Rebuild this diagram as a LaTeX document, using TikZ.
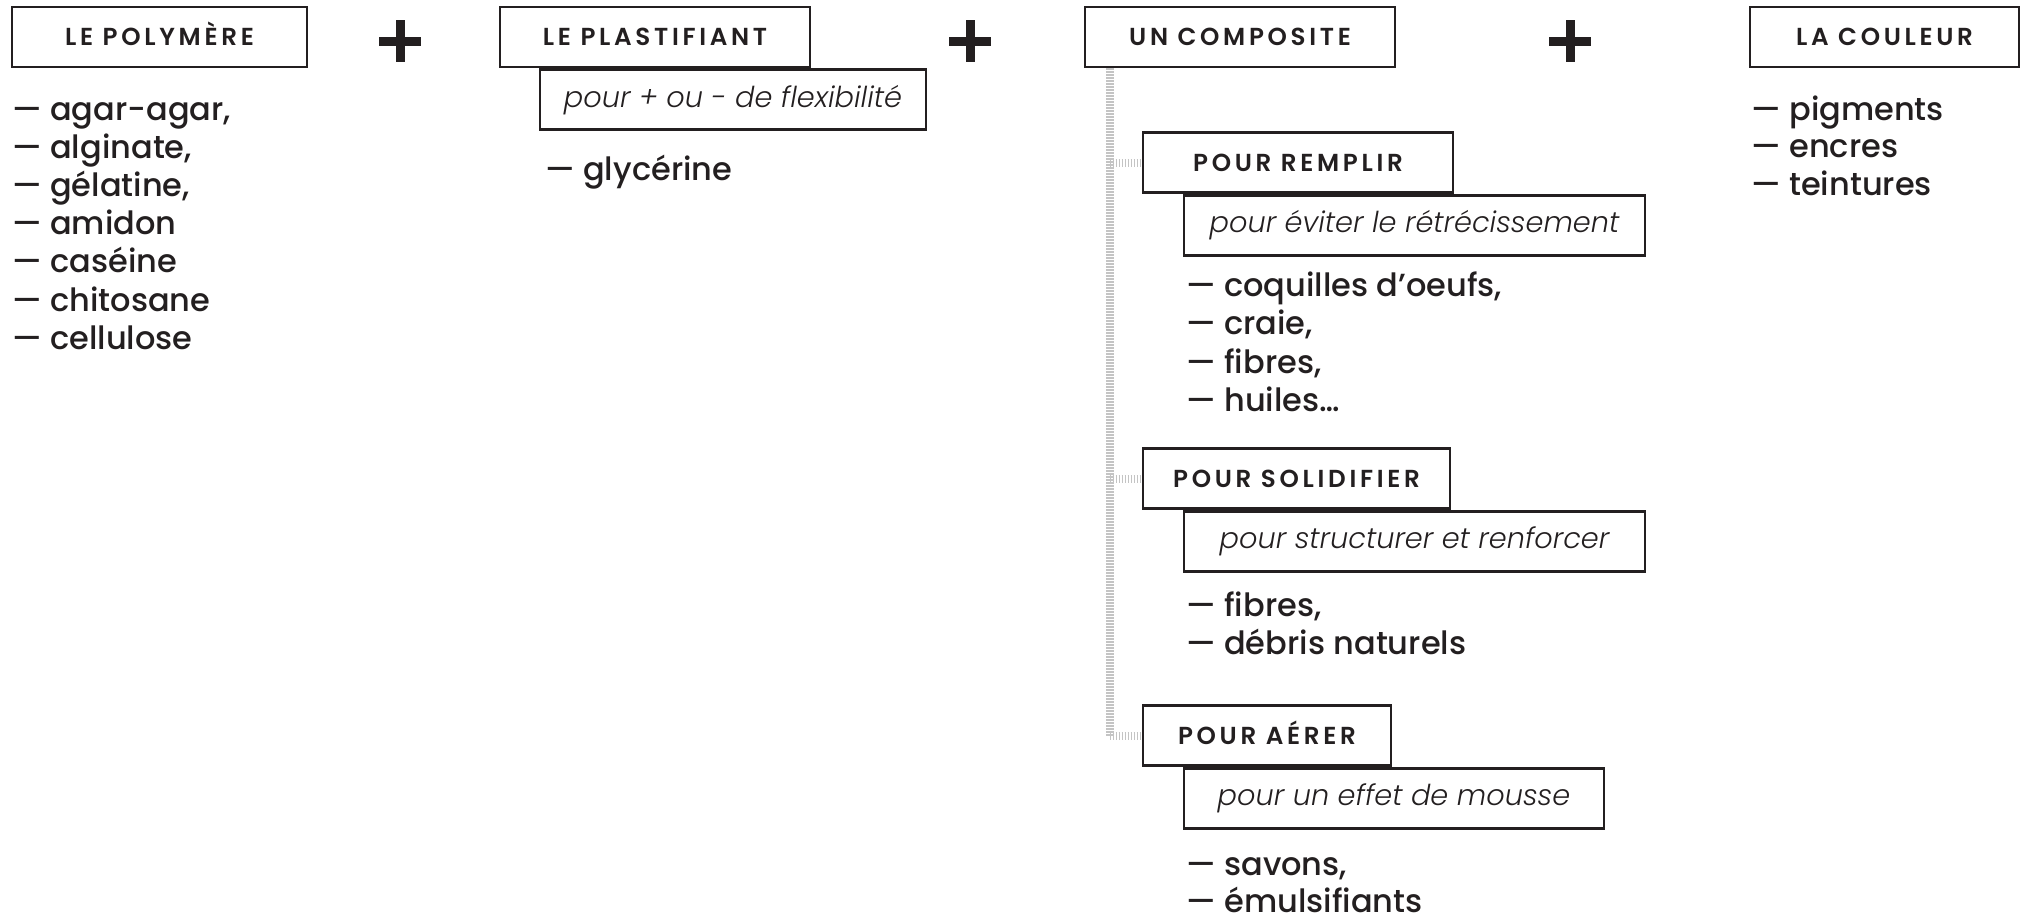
\documentclass[tikz,border=0pt]{standalone}
\usepackage{fontspec}
\setmainfont{Poppins}[UprightFont=* Medium, ItalicFont=* Light Italic, BoldFont=* SemiBold]
\newfontfamily\titlefont{Poppins SemiBold}[LetterSpace=15]
\usetikzlibrary{positioning}
\definecolor{ink}{HTML}{231F20}
\definecolor{hatchgray}{HTML}{C4C4C4}

\begin{document}
\begin{tikzpicture}[x=0.5pt, y=-0.5pt,
  every node/.style={text=ink},
  titre/.style={draw=ink, line width=1.4pt, minimum height=30pt, inner sep=0pt,
    text height=8.8pt, text depth=0pt, font=\titlefont\fontsize{12.3}{14}\selectfont},
  sous/.style={draw=ink, line width=1.4pt, minimum height=30pt, inner sep=0pt,
    text height=10.5pt, text depth=3pt, font=\itshape\fontsize{14.4}{16}\selectfont},
  item/.style={anchor=base west, inner sep=0pt, font=\fontsize{16}{19}\selectfont},
  plus/.style={minimum size=21pt, inner sep=0pt, path picture={
    \fill[ink] ([xshift=-2.25pt]path picture bounding box.north) rectangle ([xshift=2.25pt]path picture bounding box.south);
    \fill[ink] ([yshift=2.25pt]path picture bounding box.west) rectangle ([yshift=-2.25pt]path picture bounding box.east);}},
  hachure/.style={draw=hatchgray, line width=4pt, dash pattern=on 0.75pt off 0.75pt}]
  \useasboundingbox (0,0) rectangle (2025,921);

  \node[titre, minimum width=147.5pt] (poly)  at (159.5,37) {LE POLYMÈRE};
  \node[titre, minimum width=155pt]   (plast) at (655,37)   {LE PLASTIFIANT};
  \node[titre, minimum width=155pt]   (comp)  at (1240,37)  {UN COMPOSITE};
  \node[titre, minimum width=134.5pt] (coul)  at (1884.5,37) {LA COULEUR};
  \node[plus] (p1) at (400,41) {};
  \node[plus] (p2) at (970,41) {};
  \node[plus] (p3) at (1570,41) {};

  \node[sous, minimum width=193pt, below right=0pt and 20pt of plast.south west] (plastS) {pour + ou - de flexibilité};

  \node[titre, minimum width=155pt]   (remplir) at (1298,162.5) {POUR REMPLIR};
  \node[titre, minimum width=153.5pt] (solid)   at (1296.5,478.5) {POUR SOLIDIFIER};
  \node[titre, minimum width=124pt]   (aerer)   at (1267,735.5) {POUR AÉRER};
  \node[sous, minimum width=230.5pt, below right=0pt and 20.5pt of remplir.south west] (remplirS) {pour éviter le rétrécissement};
  \node[sous, minimum width=230.5pt, below right=0pt and 20.5pt of solid.south west] (solidS) {pour structurer et renforcer};
  \node[sous, minimum width=210pt, below right=0pt and 20.5pt of aerer.south west] (aererS) {pour un effet de mousse};

  \coordinate (tronc) at ([xshift=13pt]comp.south west);
  \draw[hachure] (tronc) -- (tronc |- aerer.west);
  \foreach \n in {remplir,solid,aerer}
    \draw[hachure] (tronc |- \n.west) -- (\n.west);

  \foreach \t [count=\i from 0] in {{agar-agar,},{alginate,},{gélatine,},amidon,caséine,chitosane,cellulose}
    \node[item] (poly-\i) at (12,120+38.2*\i) {— \t};
  \node[item] (plast-0) at (545,180) {— glycérine};
  \foreach \t [count=\i from 0] in {pigments,encres,teintures}
    \node[item] (coul-\i) at (1751,120+37.8*\i) {— \t};
  \foreach \t [count=\i from 0] in {{coquilles d’oeufs,},{craie,},{fibres,},{huiles…}}
    \node[item] (remplir-\i) at (1186,296+38.5*\i) {— \t};
  \foreach \t [count=\i from 0] in {{fibres,},débris naturels}
    \node[item] (solid-\i) at (1186,616+38.5*\i) {— \t};
  \foreach \t [count=\i from 0] in {{savons,},émulsifiants}
    \node[item] (aerer-\i) at (1186,875+37.5*\i) {— \t};
\end{tikzpicture}
\end{document}
